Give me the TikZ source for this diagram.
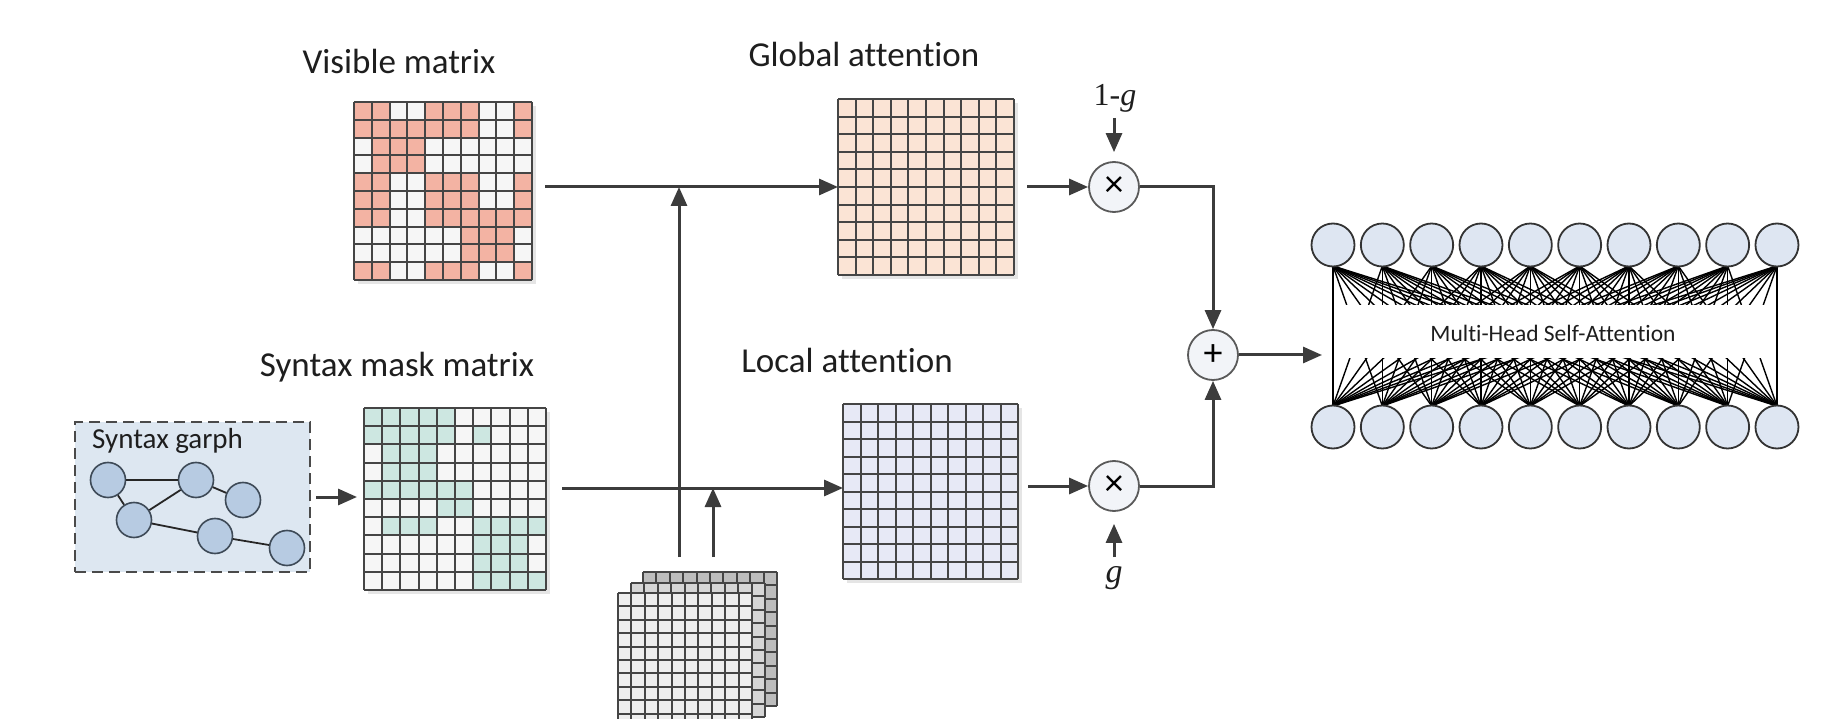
\documentclass[tikz,border=0pt]{standalone}
\usepackage{fontspec}
\setmainfont{Carlito}[Ligatures=NoCommon]
\newfontfamily\timesf{Liberation Serif}
\usetikzlibrary{arrows.meta,calc}
\definecolor{lc}{HTML}{3C3C3C}
\definecolor{gl}{HTML}{454545}
\definecolor{visr}{HTML}{F3B3A3}
\definecolor{cellw}{HTML}{F6F6F6}
\definecolor{syng}{HTML}{CDE7E1}
\definecolor{globf}{HTML}{FBE4D5}
\definecolor{locf}{HTML}{E7E9F6}
\definecolor{opfill}{HTML}{F2F4F8}
\definecolor{opc}{HTML}{5A5A5A}
\definecolor{gnf}{HTML}{B7CBE2}
\definecolor{gnc}{HTML}{3E4A57}
\definecolor{gboxf}{HTML}{DDE7F1}
\definecolor{gboxd}{HTML}{4A4A4A}
\definecolor{mnf}{HTML}{DEE6F2}
\definecolor{mnc}{HTML}{333333}
\definecolor{tc}{HTML}{1E1E1E}
\definecolor{stkA}{HTML}{BDBDBD}
\definecolor{stkB}{HTML}{D6D6D6}
\definecolor{stkC}{HTML}{EEEEEE}
\newcommand\mgrid[3]{%
  \foreach \k in {0,...,10}{%
    \draw[gridl] ({#1+\k*#3/10},#2) -- ({#1+\k*#3/10},{#2+#3});
    \draw[gridl] (#1,{#2+\k*#3/10}) -- ({#1+#3},{#2+\k*#3/10});
  }}
\newcommand\mcells[5]{%
  \foreach \r/\cs in {#5}{%
    \foreach \c in \cs {%
      \fill[#4] ({#1+(\c-1)*#3/10},{#2+(\r-1)*#3/10}) rectangle ++({#3/10},{#3/10});
    }}}
\newcommand\mshadow[3]{\fill[black!10] ({#1+4},{#2+4}) rectangle ++(#3,#3);}
\begin{document}
\begin{tikzpicture}[x=1pt,y=-1pt,
  arr/.style={draw=lc, line width=3pt, -{Triangle[length=19pt,width=16pt]}},
  gridl/.style={draw=gl, line width=2pt},
  lab/.style={font=\fontsize{35}{40}\selectfont, text=tc, inner sep=0pt, anchor=base},
  op/.style={circle, draw=opc, line width=1.8pt, fill=opfill, minimum size=50pt, inner sep=0pt, font=\fontsize{38}{40}\selectfont},
  gnode/.style={circle, draw=gnc, line width=1.6pt, fill=gnf, minimum size=35pt, inner sep=0pt},
  gedge/.style={draw=black!85, line width=1.8pt},
  mnode/.style={circle, draw=mnc, line width=1.8pt, fill=mnf, minimum size=43pt, inner sep=0pt},
  fan/.style={draw=black, line width=1.4pt},
  mat/.style={inner sep=0pt, outer sep=0pt, anchor=north west, draw=none, rectangle},
]
\useasboundingbox (0,0) rectangle (1829,719);
\fill[white] (0,0) rectangle (1829,719);

% ---------- labels ----------
\node[lab] (tvis) at (399,74) {Visible matrix};
\node[lab] (tglob) at (864,67) {Global attention};
\node[lab] (tsyn) at (397,376) {Syntax mask matrix};
\node[lab] (tloc) at (847,373) {Local attention};

% ---------- visible matrix ----------
\mshadow{354}{102}{178}
\node[mat, fill=cellw, minimum size=178pt] (vis) at (354,102) {};
\mcells{354}{102}{178}{visr}{1/{1,2,5,6,7,10},2/{1,2,3,4,5,6,7,10},3/{2,3,4},4/{2,3,4},5/{1,2,5,6,7,10},6/{1,2,5,6,7,10},7/{1,2,5,6,7,8,9,10},8/{7,8,9},9/{7,8,9},10/{1,2,5,6,7,10}}
\mgrid{354}{102}{178}

% ---------- syntax mask matrix ----------
\mshadow{364}{408}{182}
\node[mat, fill=cellw, minimum size=182pt] (syn) at (364,408) {};
\mcells{364}{408}{182}{syng}{1/{1,2,3,4,5},2/{1,2,3,4,5,7},3/{2,3,4},4/{2,3,4},5/{1,2,3,4,5,6},6/{5,6},7/{2,3,4,7,8,9,10},8/{7,8,9},9/{7,8,9},10/{7,8,9,10}}
\mgrid{364}{408}{182}

% ---------- global attention ----------
\mshadow{838}{99}{176}
\node[mat, fill=globf, minimum size=176pt] (glob) at (838,99) {};
\mgrid{838}{99}{176}

% ---------- local attention ----------
\mshadow{843}{404}{175}
\node[mat, fill=locf, minimum size=175pt] (loc) at (843,404) {};
\mgrid{843}{404}{175}

% ---------- stacked matrices ----------
\node[mat, fill=stkA, minimum size=134pt] (stk3) at (643,572) {};
\mgrid{643}{572}{134}
\node[mat, fill=stkB, minimum size=134pt] (stk2) at (631,583) {};
\mgrid{631}{583}{134}
\node[mat, fill=stkC, minimum size=134pt] (stk) at (618,593) {};
\mgrid{618}{593}{134}

% ---------- syntax graph box ----------
\node[mat, draw=gboxd, fill=gboxf, line width=1.8pt, dash pattern=on 11pt off 6pt, minimum width=235pt, minimum height=150pt] (sgbox) at (75,422) {};
\node[anchor=base west, inner sep=0pt, font=\fontsize{29}{32}\selectfont, text=tc] (sgtxt) at (92,448) {Syntax garph};
\node[gnode] (g1) at (108,480) {};
\node[gnode] (g2) at (134,520) {};
\node[gnode] (g3) at (196,480) {};
\node[gnode] (g4) at (243,500) {};
\node[gnode] (g5) at (215,536) {};
\node[gnode] (g6) at (287,548) {};
\draw[gedge] (g1) -- (g3);
\draw[gedge] (g1) -- (g2);
\draw[gedge] (g2) -- (g3);
\draw[gedge] (g3) -- (g4);
\draw[gedge] (g2) -- (g5);
\draw[gedge] (g5) -- (g6);

\draw[arr] ([xshift=6pt]sgbox.east) -- ([xshift=-7pt]syn.west |- sgbox.east);

% ---------- main arrows ----------
\coordinate (vstart) at (545,187);
\coordinate (sstart) at (562,488);
\coordinate (up1) at (679,557);
\coordinate (up2) at (713,557);
\draw[arr] (vstart) -- (vstart -| glob.west);
\draw[arr] (sstart) -- (sstart -| loc.west);
\draw[arr] (up1) -- (up1 |- vstart);
\draw[arr] (up2) -- (up2 |- sstart);

% ---------- gating ----------
\node[op] (mul1) at (1114,187) {×};
\node[op] (mul2) at (1114,486) {×};
\node[op] (plus) at (1213,355) {+};
\coordinate (gout) at (1027,187);
\coordinate (lout) at (1028,486);
\draw[arr] (gout) -- (mul1.west);
\draw[arr] (lout) -- (mul2.west);
\node[font=\timesf\fontsize{32}{34}\selectfont, text=tc, inner sep=0pt] (lg1) at (1115,98) {1-\textit{g}};
\node[font=\timesf\fontsize{34}{36}\selectfont, text=tc, inner sep=0pt] (lg2) at (1114,578) {\textit{g}};
\coordinate (a1s) at (1114,118);
\coordinate (a2s) at (1114,557);
\draw[arr, shorten >=9pt] (a1s) -- (mul1.north);
\draw[arr, shorten >=12pt] (a2s) -- (mul2.south);
\draw[arr] (mul1.east) -| (plus.north);
\draw[arr] (mul2.east) -| (plus.south);
\coordinate (mhin) at (1322,355);
\draw[arr] (plus.east) -- (mhin);

% ---------- multi-head self-attention ----------
\foreach \i in {0,...,9}{
  \coordinate (tp\i) at ({1333+49.33*\i},245);
  \coordinate (bt\i) at ({1333+49.33*\i},427);
}
\foreach \i in {0,...,9}{
  \foreach \j in {0,...,9}{
    \draw[fan] ($(tp\i)+(0,21)$) -- ($(bt\j)+(0,-21)$);
  }
}
\fill[white] (1336,305) rectangle (1775,358);
\node[font=\fontsize{23.5}{26}\selectfont, text=tc, inner sep=0pt] (mhsa) at (1553,333) {Multi-Head Self-Attention};
\foreach \i in {0,...,9}{
  \node[mnode] (top\i) at (tp\i) {};
  \node[mnode] (bot\i) at (bt\i) {};
}
\end{tikzpicture}
\end{document}
